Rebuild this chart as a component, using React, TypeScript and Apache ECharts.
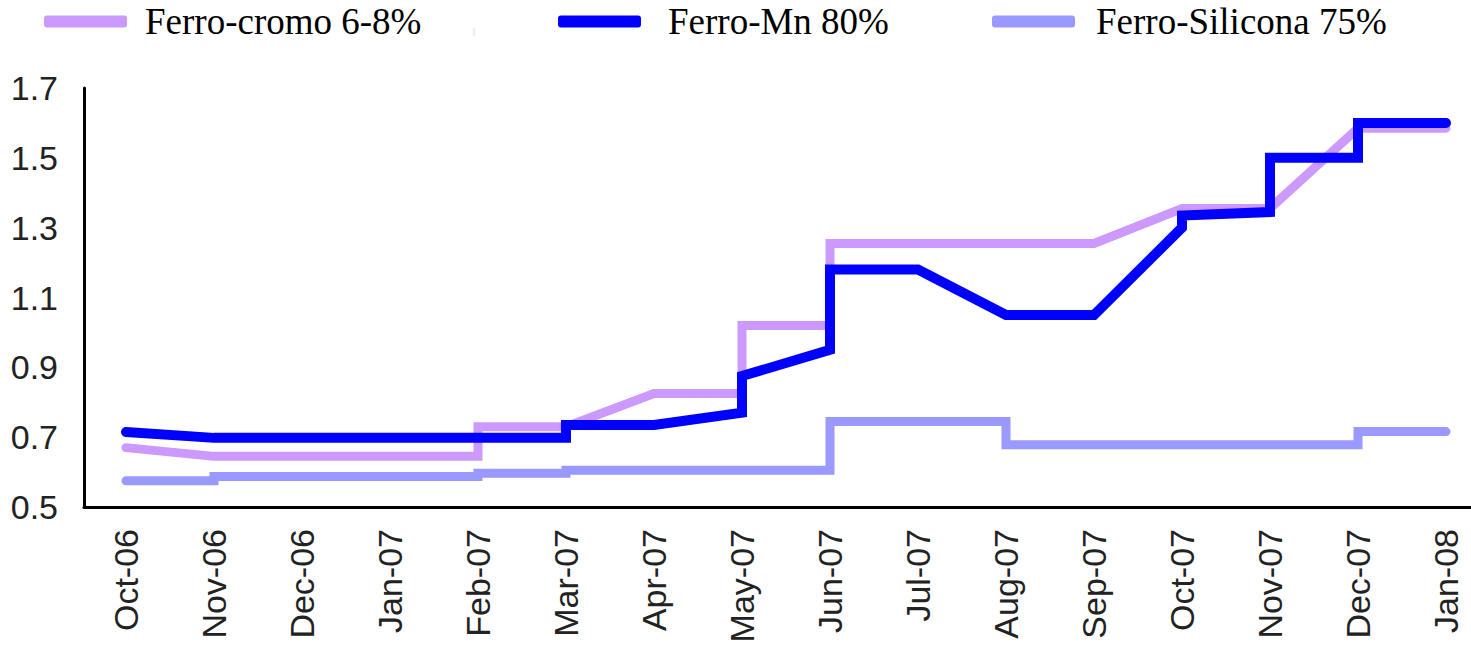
import React, { useEffect, useRef } from "react";
import * as echarts from "echarts";

const months = [
  "Oct-06", "Nov-06", "Dec-06", "Jan-07", "Feb-07", "Mar-07", "Apr-07", "May-07",
  "Jun-07", "Jul-07", "Aug-07", "Sep-07", "Oct-07", "Nov-07", "Dec-07", "Jan-08",
];

// value reached at each month, and value after the jump at that month
const cromoArrive = [0.67, 0.645, 0.645, 0.645, 0.645, 0.73, 0.825, 0.825, 1.02, 1.255, 1.255, 1.255, 1.355, 1.355, 1.585, 1.585];
const cromoLeave = [0.67, 0.645, 0.645, 0.645, 0.73, 0.73, 0.825, 1.02, 1.255, 1.255, 1.255, 1.255, 1.355, 1.355, 1.585, 1.585];

const mnArrive = [0.715, 0.698, 0.698, 0.698, 0.698, 0.698, 0.735, 0.77, 0.95, 1.18, 1.05, 1.05, 1.3, 1.345, 1.5, 1.6];
const mnLeave = [0.715, 0.698, 0.698, 0.698, 0.698, 0.735, 0.735, 0.875, 1.18, 1.18, 1.05, 1.05, 1.335, 1.5, 1.6, 1.6];

const siArrive = [0.575, 0.575, 0.587, 0.587, 0.587, 0.597, 0.605, 0.605, 0.605, 0.745, 0.745, 0.678, 0.678, 0.678, 0.678, 0.716];
const siLeave = [0.575, 0.587, 0.587, 0.587, 0.597, 0.605, 0.605, 0.605, 0.745, 0.745, 0.678, 0.678, 0.678, 0.678, 0.716, 0.716];

const yTicks = [0.5, 0.7, 0.9, 1.1, 1.3, 1.5, 1.7];

const seriesNames = ["Ferro-cromo 6-8%", "Ferro-Mn 80%", "Ferro-Silicona 75%"];

function toSteps(arrive: number[], leave: number[]) {
  const pts: number[][] = [];
  arrive.forEach((v, i) => {
    pts.push([i, v]);
    if (leave[i] !== v) pts.push([i, leave[i]]);
  });
  return pts;
}

export default function App() {
  const ref = useRef<HTMLDivElement>(null);
  useEffect(() => {
    if (!ref.current) return;
    const chart = echarts.init(ref.current, null, { renderer: "svg" });
    const legendText = {
      fontFamily: "Liberation Serif",
      fontSize: 37,
      color: "#000",
    };
    const mkLegend = (name: string, left: number, pad: number) => ({
      data: [name],
      left,
      top: 3,
      padding: 0,
      icon: "roundRect",
      itemWidth: 83,
      itemHeight: 12,
      textStyle: { ...legendText, padding: [0, 0, 0, pad] },
      selectedMode: false,
    });
    chart.setOption({
      animation: false,
      backgroundColor: "#fff",
      legend: [
        mkLegend(seriesNames[0], 44, 13),
        mkLegend(seriesNames[1], 558, 22),
        mkLegend(seriesNames[2], 992, 16),
      ],
      grid: { left: 84, right: 0, top: 88, bottom: 143, containLabel: false, outerBoundsMode: "none" },
      xAxis: {
        type: "value",
        min: -0.477,
        max: 15.284,
        splitLine: { show: false },
        axisTick: { show: false },
        axisLine: { show: true, onZero: false, lineStyle: { color: "#000", width: 3 } },
        axisLabel: {
          customValues: months.map((_, i) => i),
          formatter: (v: number) => months[Math.round(v)] ?? "",
          rotate: 90,
          margin: 22,
          fontFamily: "Liberation Sans",
          fontSize: 34,
          color: "#222",
        },
      },
      yAxis: {
        type: "value",
        min: yTicks[0],
        max: yTicks[yTicks.length - 1],
        interval: 0.2,
        splitLine: { show: false },
        axisTick: { show: false },
        axisLine: { show: true, onZero: false, lineStyle: { color: "#000", width: 3 } },
        axisLabel: {
          formatter: (v: number) => v.toFixed(1),
          margin: 26,
          fontFamily: "Liberation Sans",
          fontSize: 34,
          color: "#222",
        },
      },
      graphic: [
        {
          type: "line",
          shape: { x1: 474, y1: 28, x2: 474, y2: 36 },
          style: { stroke: "#ddd", lineWidth: 1 },
        },
      ],
      series: [
        {
          name: seriesNames[0],
          type: "line",
          data: toSteps(cromoArrive, cromoLeave),
          showSymbol: false,
          symbol: "none",
          color: "#CC99FF",
          lineStyle: { width: 9, color: "#CC99FF", cap: "round", join: "miter" },
        },
        {
          name: seriesNames[1],
          type: "line",
          data: toSteps(mnArrive, mnLeave),
          showSymbol: false,
          symbol: "none",
          color: "#0000FF",
          lineStyle: { width: 10, color: "#0000FF", cap: "round", join: "miter" },
        },
        {
          name: seriesNames[2],
          type: "line",
          data: toSteps(siArrive, siLeave),
          showSymbol: false,
          symbol: "none",
          color: "#9999FF",
          lineStyle: { width: 9, color: "#9999FF", cap: "round", join: "miter" },
        },
      ],
    });
    return () => chart.dispose();
  }, []);
  return (
    <div
      ref={ref}
      style={{ position: "absolute", left: 0, top: 0, width: 1471, height: 650 }}
    />
  );
}
